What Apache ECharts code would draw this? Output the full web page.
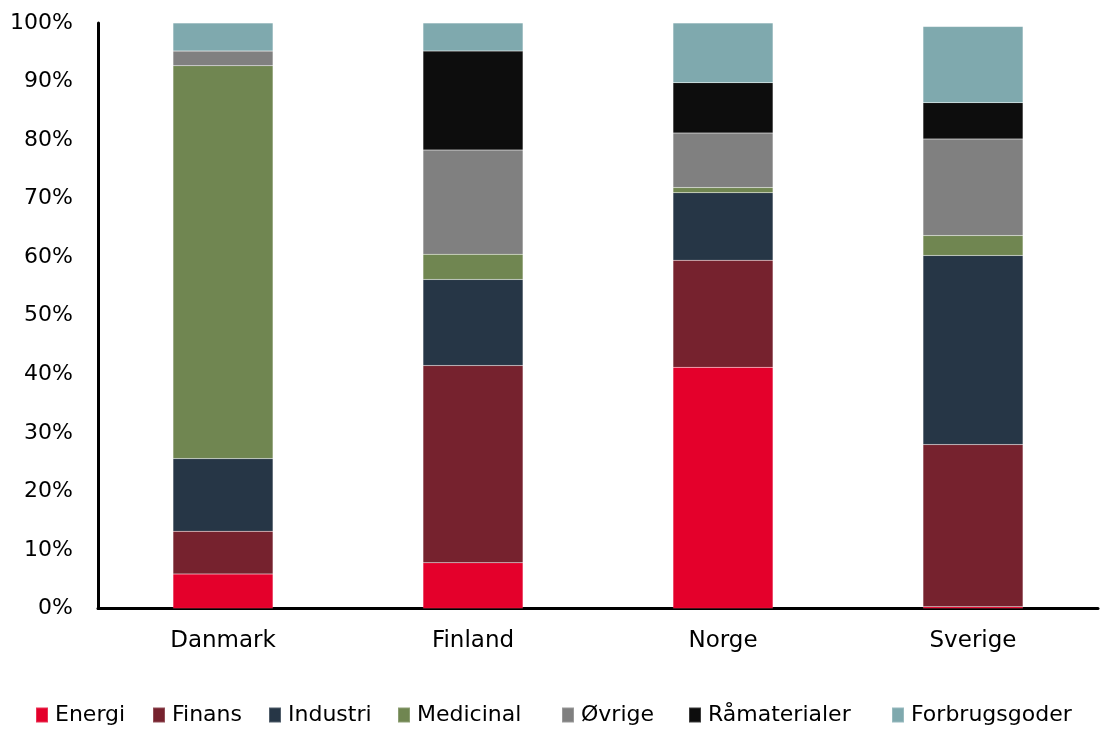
<!DOCTYPE html>
<html>
<head>
<meta charset="utf-8">
<title>Sektorfordeling</title>
<script src="https://cdn.jsdelivr.net/npm/echarts@6/dist/echarts.min.js"></script>
<style>
  html, body { margin: 0; padding: 0; background: #ffffff; }
  #chart { width: 1101px; height: 729px; }
</style>
</head>
<body>
<div id="chart"></div>
<script>
// Countries on the x axis
const countries = ['Danmark', 'Finland', 'Norge', 'Sverige'];

// Sector shares (%) per country, stacked bottom to top
const energi        = [5.9, 7.8, 41.2, 0.3];
const finans        = [7.3, 33.7, 18.3, 27.7];
const industri      = [12.4, 14.7, 11.5, 32.3];
const medicinal     = [67.1, 4.3, 0.9, 3.4];
const ovrige        = [2.5, 17.8, 9.3, 16.5];
const ramaterialer  = [0.0, 16.9, 8.6, 6.2];
const forbrugsgoder = [4.8, 4.8, 10.2, 13.0];

// Value axis ticks
const yTicks = { min: 0, max: 100, step: 10 };

const sectors = [
  { name: 'Energi',        data: energi,        color: '#E4002B' },
  { name: 'Finans',        data: finans,        color: '#76222E' },
  { name: 'Industri',      data: industri,      color: '#263646' },
  { name: 'Medicinal',     data: medicinal,     color: '#708651' },
  { name: 'Øvrige',        data: ovrige,        color: '#808080' },
  { name: 'Råmaterialer',  data: ramaterialer,  color: '#0D0D0D' },
  { name: 'Forbrugsgoder', data: forbrugsgoder, color: '#7FA9AE' }
];

const FONT = 'DejaVu Sans';

// One legend per entry so each entry sits at its own horizontal spot
const legendLefts = [35, 152, 268, 397, 561, 688, 891];
const legends = sectors.map((s, i) => ({
  data: [s.name],
  left: legendLefts[i],
  top: 704,
  orient: 'horizontal',
  itemWidth: 12,
  itemHeight: 15,
  itemGap: 0,
  icon: 'rect',
  selectedMode: false,
  padding: 0,
  textStyle: { fontFamily: FONT, fontSize: 22, color: '#000000', padding: [0, 0, 0, 2] }
}));

const chart = echarts.init(document.getElementById('chart'), null, { renderer: 'canvas' });

chart.setOption({
  backgroundColor: '#ffffff',
  animation: false,
  grid: { left: 98, right: 3, top: 23, bottom: 120.5, containLabel: false },
  legend: legends,
  xAxis: {
    type: 'category',
    data: countries,
    axisLine: { show: true, lineStyle: { color: '#000000', width: 3 } },
    axisTick: { show: false },
    axisLabel: { fontFamily: FONT, fontSize: 23, color: '#000000', margin: 21 },
    splitLine: { show: false }
  },
  yAxis: {
    type: 'value',
    min: yTicks.min,
    max: yTicks.max,
    interval: yTicks.step,
    axisLine: { show: true, lineStyle: { color: '#000000', width: 3 } },
    axisTick: { show: false },
    axisLabel: { fontFamily: FONT, fontSize: 22, color: '#000000', margin: 25, formatter: '{value}%' },
    splitLine: { show: false }
  },
  series: sectors.map(s => ({
    name: s.name,
    type: 'bar',
    stack: 'total',
    barWidth: 100,
    data: s.data,
    itemStyle: { color: s.color, borderColor: 'rgba(255,255,255,0.2)', borderWidth: 0.5 },
    emphasis: { disabled: true }
  }))
});
</script>
</body>
</html>
